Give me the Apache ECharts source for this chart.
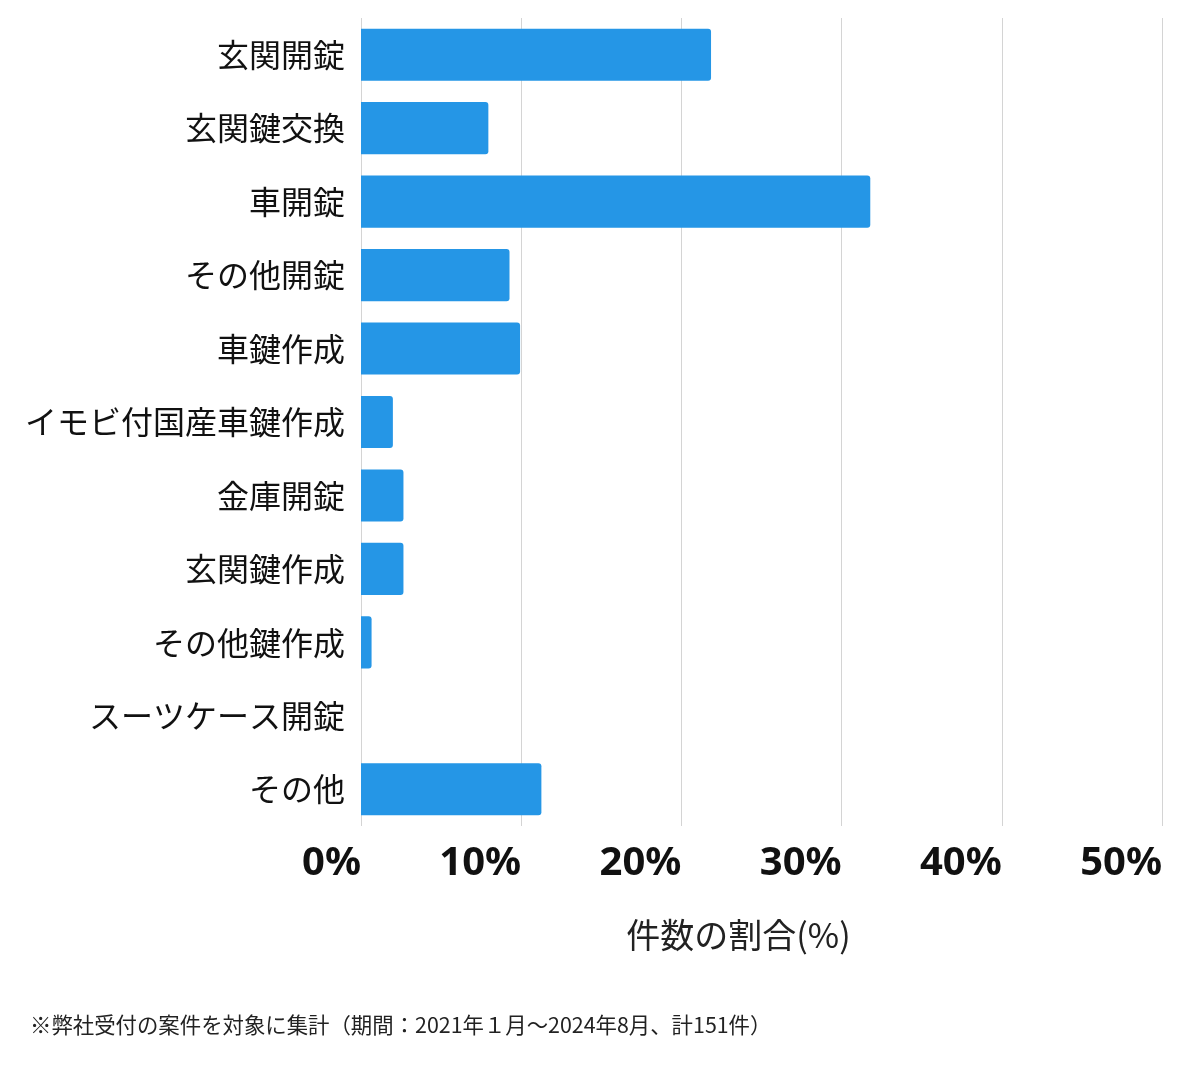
<!DOCTYPE html>
<html>
<head>
<meta charset="utf-8">
<script src="https://cdn.jsdelivr.net/npm/echarts@6/dist/echarts.min.js"></script>
<style>
	html, body { margin: 0; padding: 0; background: #fff; }
	#chart { width: 1200px; height: 1069px; }
</style>
</head>
<body>
<div id="chart"></div>
<script>
// categories, top to bottom
var categories = [
	'玄関開錠',
	'玄関鍵交換',
	'車開錠',
	'その他開錠',
	'車鍵作成',
	'イモビ付国産車鍵作成',
	'金庫開錠',
	'玄関鍵作成',
	'その他鍵作成',
	'スーツケース開錠',
	'その他',
]

// share of cases (%)
var shares = [21.85, 7.95, 31.79, 9.27, 9.93, 1.99, 2.65, 2.65, 0.66, 0, 11.26]

var xTicks = [0, 10, 20, 30, 40, 50]

var axisName = '件数の割合(%)'
var footnote = '※弊社受付の案件を対象に集計（期間：2021年１月〜2024年8月、計151件）'

var fontFamily = '"Noto Sans CJK JP", "Noto Sans", sans-serif'

var chart = echarts.init(document.getElementById('chart'))

var option = {
	animation: false,
	textStyle: { fontFamily: fontFamily },
	grid: {
		left: 361,
		right: 38,
		top: 18,
		bottom: 243,
	},
	xAxis: {
		type: 'value',
		min: xTicks[0],
		max: xTicks[xTicks.length - 1],
		interval: 10,
		axisLine: { show: false },
		axisTick: { show: false },
		splitLine: { lineStyle: { color: '#d4d4d4', width: 1 } },
		axisLabel: {
			formatter: '{value}%',
			align: 'right',
			margin: 18,
			fontSize: 40,
			fontWeight: 'bold',
			color: '#111',
			fontFamily: '"Noto Sans", sans-serif',
		},
		name: axisName,
		nameLocation: 'middle',
		nameGap: 92,
		nameTextStyle: {
			fontSize: 34,
			color: '#222',
			padding: [0, 46, 0, 0],
		},
	},
	yAxis: {
		type: 'category',
		data: categories,
		inverse: true,
		axisLine: { show: false },
		axisTick: { show: false },
		axisLabel: {
			fontSize: 32,
			color: '#111',
			margin: 16,
		},
	},
	series: [
		{
			type: 'bar',
			data: shares,
			barWidth: '71%',
			itemStyle: {
				color: '#2596e6',
				borderRadius: [0, 3, 3, 0],
			},
		},
	],
	graphic: [
		{
			type: 'text',
			left: 30,
			top: 1014,
			style: {
				text: footnote,
				fontSize: 21.4,
				fill: '#222',
				fontFamily: fontFamily,
			},
		},
	],
}

chart.setOption(option)
</script>
</body>
</html>
